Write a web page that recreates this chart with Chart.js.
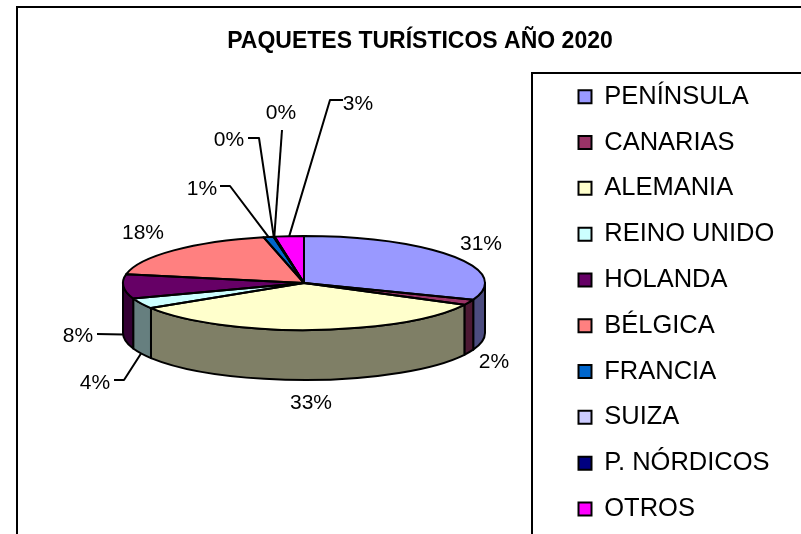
<!DOCTYPE html>
<html>
<head>
<meta charset="utf-8">
<title>Paquetes turísticos</title>
<script src="https://cdn.jsdelivr.net/npm/chart.js@4"></script>
<style>
    html, body { margin: 0; padding: 0; background: #fff; overflow: hidden; }
    #wrap { width: 801px; height: 534px; overflow: hidden; }
    canvas { display: block; }
</style>
</head>
<body>
<!-- the chart is wider and taller than the window, the photo crops it -->
<div id="wrap"><canvas id="pie" width="840" height="620"></canvas></div>
<script>
const categories = ['PENÍNSULA', 'CANARIAS', 'ALEMANIA', 'REINO UNIDO', 'HOLANDA', 'BÉLGICA', 'FRANCIA', 'SUIZA', 'P. NÓRDICOS', 'OTROS'];
const shares = [30.8, 1.9, 33.4, 3.6, 8.4, 18.4, 0.9, 0.05, 0.05, 2.6];
const topColors = ['#9999FF', '#993366', '#FFFFCC', '#CCFFFF', '#660066', '#FF8080', '#0066CC', '#CCCCFF', '#000080', '#FF00FF'];

const FONT = '"Liberation Sans", Arial, sans-serif';
const TILT = 47 / 181;
const DEPTH = 50;

// text centre for each percentage, elbow = where the leader turns, drop = leader ends on the wall
const labelSpots = [
    { x: 481, y: 244 },
    { x: 494, y: 362 },
    { x: 311, y: 403 },
    { x: 95, y: 383, elbow: [114, 380, 124, 380], drop: 50 },
    { x: 78, y: 336, elbow: [97, 334, 97, 334], drop: 48 },
    { x: 143, y: 233 },
    { x: 202, y: 189, elbow: [220, 186, 230, 186] },
    { x: 229, y: 140, elbow: [248, 138, 259, 138] },
    { x: 281, y: 113, elbow: [282, 130, 282, 130] },
    { x: 358, y: 104, elbow: [343, 100, 330, 100] }
];

function halfTone(hex) {
    const n = parseInt(hex.slice(1), 16);
    return `rgb(${(n >> 16) >> 1}, ${((n >> 8) & 255) >> 1}, ${(n & 255) >> 1})`;
}

const tiltedPie = {
    id: 'tiltedPie',
    afterLayout(chart) {
        // fixed plot box, the legend sits inside its own frame
        chart.chartArea = { left: 123, right: 485, top: 102, bottom: 464, width: 362, height: 362 };
        chart.legend.left = 558.2;
        chart.legend.top = 63.7;
    },
    beforeDraw(chart) {
        const ctx = chart.ctx;
        ctx.save();
        ctx.strokeStyle = '#000';
        ctx.lineWidth = 2;
        ctx.strokeRect(17, 7, 806, 560);
        ctx.strokeRect(532, 73, 400, 500);
        ctx.restore();
    },
    beforeDatasetsDraw(chart) {
        const ctx = chart.ctx;
        const arcs = chart.getDatasetMeta(0).data;
        const { x: cx, y: cy, outerRadius: r } = arcs[0];

        ctx.save();
        ctx.strokeStyle = '#000';
        ctx.lineWidth = 2;
        ctx.lineJoin = 'round';
        arcs.forEach((arc, i) => {
            const a = Math.max(arc.startAngle, 0);
            const b = Math.min(arc.endAngle, Math.PI);
            if (b <= a) return;
            ctx.beginPath();
            ctx.ellipse(cx, cy, r, r * TILT, 0, a, b);
            ctx.ellipse(cx, cy + DEPTH, r, r * TILT, 0, b, a, true);
            ctx.closePath();
            ctx.fillStyle = halfTone(topColors[i]);
            ctx.fill();
            ctx.stroke();
        });
        ctx.restore();

        ctx.save();
        ctx.translate(cx, cy);
        ctx.scale(1, TILT);
        ctx.translate(-cx, -cy);
    },
    afterDatasetsDraw(chart) {
        const ctx = chart.ctx;
        ctx.restore();

        const arcs = chart.getDatasetMeta(0).data;
        const { x: cx, y: cy, outerRadius: r } = arcs[0];
        const total = shares.reduce((sum, v) => sum + v, 0);

        ctx.save();
        ctx.strokeStyle = '#000';
        ctx.lineWidth = 2;
        ctx.lineJoin = 'round';
        arcs.forEach(arc => {
            ctx.beginPath();
            ctx.moveTo(cx, cy);
            ctx.ellipse(cx, cy, r, r * TILT, 0, arc.startAngle, arc.endAngle);
            ctx.closePath();
            ctx.stroke();
        });

        ctx.fillStyle = '#000';
        ctx.font = `21px ${FONT}`;
        ctx.textAlign = 'center';
        ctx.textBaseline = 'middle';
        arcs.forEach((arc, i) => {
            const spot = labelSpots[i];
            if (spot.elbow) {
                const mid = (arc.startAngle + arc.endAngle) / 2;
                const rimX = cx + r * Math.cos(mid);
                const rimY = cy + r * TILT * Math.sin(mid) + (spot.drop || 0);
                ctx.beginPath();
                ctx.moveTo(spot.elbow[0], spot.elbow[1]);
                ctx.lineTo(spot.elbow[2], spot.elbow[3]);
                ctx.lineTo(rimX, rimY);
                ctx.stroke();
            }
            ctx.fillText(Math.round(shares[i] / total * 100) + '%', spot.x, spot.y);
        });
        ctx.restore();
    }
};

new Chart(document.getElementById('pie'), {
    type: 'pie',
    data: {
        labels: categories,
        datasets: [{
            data: shares,
            backgroundColor: topColors,
            borderWidth: 0
        }]
    },
    options: {
        responsive: false,
        animation: false,
        events: [],
        plugins: {
            title: {
                display: true,
                text: 'PAQUETES TURÍSTICOS AÑO 2020',
                color: '#000',
                font: { family: FONT, size: 23, weight: 'bold' },
                padding: { top: 28, bottom: 10 }
            },
            legend: {
                position: 'right',
                align: 'start',
                labels: {
                    color: '#000',
                    font: { family: FONT, size: 25.5 },
                    boxWidth: 13,
                    boxHeight: 13,
                    padding: 20.3,
                    generateLabels(chart) {
                        return Chart.overrides.pie.plugins.legend.labels.generateLabels(chart)
                            .map(item => ({ ...item, strokeStyle: '#000', lineWidth: 2 }));
                    }
                }
            },
            tooltip: { enabled: false }
        }
    },
    plugins: [tiltedPie]
});
</script>
</body>
</html>
